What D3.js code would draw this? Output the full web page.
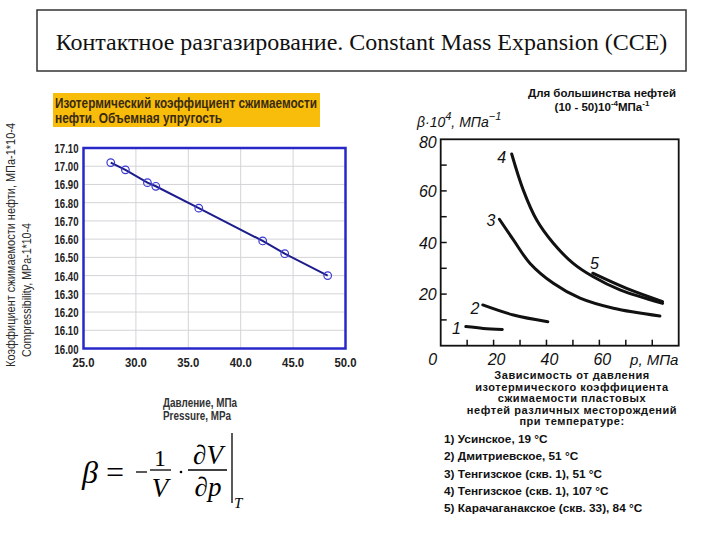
<!DOCTYPE html>
<html><head><meta charset="utf-8">
<script src="https://cdn.jsdelivr.net/npm/d3@7"></script>
<style>body{margin:0;background:#fff}svg{display:block}</style>
</head><body>
<svg id="c" width="720" height="540"></svg>
<script>
// ---- Data ----
const slideTitle = "Контактное разгазирование. Constant Mass Expansion (CCE)";
const leftTitle = ["Изотермический коэффициент сжимаемости", "нефти. Объемная упругость"];
const leftYLabel = ["Коэффициент сжимаемости нефти, МПа-1*10-4", "Compressibility, MPa-1*10-4"];
const leftXLabel = ["Давление, МПа", "Pressure, MPa"];
const pressure = [27.6, 29.0, 31.1, 31.9, 36.0, 42.1, 44.2, 48.3];
const compress = [17.02, 16.98, 16.91, 16.89, 16.77, 16.59, 16.52, 16.40];
const leftXTicks = [25, 30, 35, 40, 45, 50];
const leftYTicks = [16.0, 16.1, 16.2, 16.3, 16.4, 16.5, 16.6, 16.7, 16.8, 16.9, 17.0, 17.1];

const rightHeader = ["Для большинства нефтей", "(10 - 50)10", "-4", "МПа", "-1"];
const curveNames = ["1", "2", "3", "4", "5"];
const curveX = [
  [9.5, 16.1, 23.3],
  [15.9, 27.5, 40.5],
  [22.2, 27.5, 33.8, 42.6, 52.7, 65.3, 82.9],
  [26.85, 31.2, 36.3, 42.6, 50.1, 57.7, 67.8, 83.9],
  [57.5, 70.3, 83.9]
];
const curveY = [
  [7.4, 6.7, 6.3],
  [15.8, 11.9, 9.3],
  [49.0, 41.0, 31.9, 24.2, 18.4, 14.5, 11.5],
  [74.3, 60.4, 48.7, 39.7, 31.9, 26.7, 21.6, 16.4],
  [28.1, 22.2, 17.1]
];
const labelX = [6.0, 13.0, 19.0, 23.1, 58.1];
const labelY = [6.7, 14.7, 48.7, 73.3, 31.9];
const rightXTickLabels = ["0", "20", "40", "60"];
const rightXTickVals = [0, 20, 40, 60];
const rightYTickVals = [20, 40, 60, 80];
const caption = ["Зависимость от давления", "изотермического коэффициента", "сжимаемости пластовых", "нефтей различных месторождений", "при температуре:"];
const legendItems = ["1) Усинское, 19 °C", "2) Дмитриевское, 51 °C", "3) Тенгизское (скв. 1), 51 °C", "4) Тенгизское (скв. 1), 107 °C", "5) Карачаганакское (скв. 33), 84 °C"];

const svg = d3.select("#c");
const sans = "'Liberation Sans',Arial,sans-serif";

// ---- Slide title ----
svg.append("rect").attr("x", 37).attr("y", 10).attr("width", 649).attr("height", 61)
  .attr("fill", "none").attr("stroke", "#333").attr("stroke-width", 1.5);
svg.append("text").attr("x", 361.5).attr("y", 50).attr("text-anchor", "middle")
  .attr("font-family", "'Liberation Serif','Times New Roman',serif").attr("font-size", 24)
  .attr("fill", "#111").text(slideTitle);

// ---- Left chart ----
svg.append("rect").attr("x", 53).attr("y", 93).attr("width", 267).attr("height", 34).attr("fill", "#f7bd0a");
const titleLen = [262, 167];
leftTitle.forEach((t, i) => svg.append("text").attr("x", 55).attr("y", 108 + i * 15)
  .attr("font-family", sans).attr("font-weight", "bold").attr("font-size", 14)
  .attr("textLength", titleLen[i]).attr("lengthAdjust", "spacingAndGlyphs")
  .attr("fill", "#3a2a10").text(t));

const lx = d3.scaleLinear().domain([25, 50]).range([83.5, 345.5]);
const ly = d3.scaleLinear().domain([16.0, 17.1]).range([348.5, 148]);
const gL = svg.append("g");
gL.selectAll("line.gx").data(leftXTicks.slice(1, -1)).join("line")
  .attr("x1", d => lx(d)).attr("x2", d => lx(d)).attr("y1", ly(16)).attr("y2", ly(17.1))
  .attr("stroke", "#d4d4d8").attr("stroke-width", 1);
gL.selectAll("line.gy").data(leftYTicks.slice(1, -1)).join("line")
  .attr("x1", lx(25)).attr("x2", lx(50)).attr("y1", d => ly(d)).attr("y2", d => ly(d))
  .attr("stroke", "#d4d4d8").attr("stroke-width", 1);
gL.append("rect").attr("x", lx(25)).attr("y", ly(17.1)).attr("width", lx(50) - lx(25)).attr("height", ly(16) - ly(17.1))
  .attr("fill", "none").attr("stroke", "#2828c8").attr("stroke-width", 2.5);
gL.selectAll("text.yt").data(leftYTicks).join("text")
  .attr("x", lx(25) - 29).attr("y", d => ly(d) + 5)
  .attr("font-family", sans).attr("font-weight", "bold").attr("font-size", 13).attr("fill", "#222")
  .attr("textLength", 24).attr("lengthAdjust", "spacingAndGlyphs")
  .text(d => d.toFixed(2));
gL.selectAll("text.xt").data(leftXTicks).join("text")
  .attr("x", d => lx(d) - 11).attr("y", ly(16) + 18)
  .attr("font-family", sans).attr("font-weight", "bold").attr("font-size", 13).attr("fill", "#222")
  .attr("textLength", 22).attr("lengthAdjust", "spacingAndGlyphs")
  .text(d => d.toFixed(1));
const lineL = d3.line().x((d, i) => lx(pressure[i])).y((d, i) => ly(compress[i]));
gL.append("path").attr("d", lineL(pressure)).attr("fill", "none").attr("stroke", "#1c1c8c").attr("stroke-width", 2);
gL.selectAll("circle").data(pressure).join("circle")
  .attr("cx", (d, i) => lx(pressure[i])).attr("cy", (d, i) => ly(compress[i])).attr("r", 3.8)
  .attr("fill", "none").attr("stroke", "#3a3ad0").attr("stroke-width", 1.2);
const yLab = [[14.5, 367, 244], [31, 357, 134]];
yLab.forEach((p, i) => svg.append("text")
  .attr("transform", `translate(${p[0]},${p[1]}) rotate(-90)`)
  .attr("font-family", sans).attr("font-size", 13).attr("fill", "#2a2a2a")
  .attr("textLength", p[2]).attr("lengthAdjust", "spacingAndGlyphs")
  .text(leftYLabel[i]));
const xLabLen = [74, 68];
leftXLabel.forEach((t, i) => svg.append("text").attr("x", 163).attr("y", 407 + i * 13)
  .attr("font-family", sans).attr("font-weight", "bold").attr("font-size", 12.5).attr("fill", "#333")
  .attr("textLength", xLabLen[i]).attr("lengthAdjust", "spacingAndGlyphs").text(t));

// ---- Formula ----
const serif = "'Liberation Serif','Times New Roman',serif";
const fm = svg.append("g").attr("font-family", serif).attr("fill", "#000");
fm.append("text").attr("x", 82).attr("y", 483).attr("font-size", 32).attr("font-style", "italic").text("β");
fm.append("text").attr("x", 106).attr("y", 483).attr("font-size", 32).text("=");
fm.append("line").attr("x1", 136).attr("x2", 147).attr("y1", 472).attr("y2", 472).attr("stroke", "#000").attr("stroke-width", 1.3);
fm.append("line").attr("x1", 150).attr("x2", 171).attr("y1", 470).attr("y2", 470).attr("stroke", "#000").attr("stroke-width", 1.3);
fm.append("text").attr("x", 160).attr("y", 466).attr("text-anchor", "middle").attr("font-size", 24).text("1");
fm.append("text").attr("x", 160).attr("y", 497).attr("text-anchor", "middle").attr("font-size", 27).attr("font-style", "italic").text("V");
fm.append("circle").attr("cx", 181).attr("cy", 472).attr("r", 1.3);
fm.append("line").attr("x1", 188).attr("x2", 227).attr("y1", 470).attr("y2", 470).attr("stroke", "#000").attr("stroke-width", 1.3);
fm.append("text").attr("x", 208).attr("y", 464).attr("text-anchor", "middle").attr("font-size", 27).attr("font-style", "italic").text("∂V");
fm.append("text").attr("x", 208).attr("y", 496).attr("text-anchor", "middle").attr("font-size", 27).attr("font-style", "italic").text("∂p");
fm.append("line").attr("x1", 232).attr("x2", 232).attr("y1", 433).attr("y2", 503).attr("stroke", "#000").attr("stroke-width", 1.3);
fm.append("text").attr("x", 234).attr("y", 508).attr("font-size", 15).attr("font-style", "italic").text("T");

// ---- Right chart ----
const rx = d3.scaleLinear().domain([0, 90]).range([440.7, 678.7]);
const ry = d3.scaleLinear().domain([0, 80]).range([345.7, 139.3]);
const gR = svg.append("g");
const hand = "'Liberation Sans',Arial,sans-serif";
gR.append("rect").attr("x", rx(0)).attr("y", ry(80)).attr("width", rx(90) - rx(0)).attr("height", ry(0) - ry(80))
  .attr("fill", "none").attr("stroke", "#111").attr("stroke-width", 1.8);
gR.selectAll("line.xt").data(d3.range(10, 90, 10)).join("line")
  .attr("x1", d => rx(d)).attr("x2", d => rx(d)).attr("y1", ry(0)).attr("y2", ry(0) - 6)
  .attr("stroke", "#111").attr("stroke-width", 1.5);
gR.selectAll("line.yt").data(d3.range(10, 80, 10)).join("line")
  .attr("x1", rx(0)).attr("x2", rx(0) + 6).attr("y1", d => ry(d)).attr("y2", d => ry(d))
  .attr("stroke", "#111").attr("stroke-width", 1.5);
gR.selectAll("text.ytl").data(rightYTickVals).join("text")
  .attr("x", rx(0) - 4).attr("y", d => ry(d) + (d === 80 ? 9 : 6)).attr("text-anchor", "end")
  .attr("font-family", hand).attr("font-style", "italic").attr("font-size", 16).attr("fill", "#111")
  .text(d => d);
gR.selectAll("text.xtl").data(rightXTickVals).join("text")
  .attr("x", (d, i) => rx(d) + (i === 0 ? -8 : 3)).attr("y", ry(0) + 19).attr("text-anchor", "middle")
  .attr("font-family", hand).attr("font-style", "italic").attr("font-size", 16).attr("fill", "#111")
  .text((d, i) => rightXTickLabels[i]);
gR.append("text").attr("x", rx(80) + 2).attr("y", ry(0) + 19).attr("text-anchor", "middle")
  .attr("font-family", hand).attr("font-style", "italic").attr("font-size", 15).attr("fill", "#111").text("p, МПа");
const yt = gR.append("text").attr("x", 417).attr("y", 127)
  .attr("font-family", hand).attr("font-style", "italic").attr("font-size", 14).attr("fill", "#111");
yt.append("tspan").text("β·10");
yt.append("tspan").attr("dy", -7).attr("font-size", 11).text("4");
yt.append("tspan").attr("dy", 7).text(", МПа");
yt.append("tspan").attr("dy", -7).attr("font-size", 11).text("−1");

const lineR = d3.line().curve(d3.curveCatmullRom.alpha(0.5));
curveX.forEach((xs, k) => {
  gR.append("path").attr("d", lineR(xs.map((x, i) => [rx(x), ry(curveY[k][i])])))
    .attr("fill", "none").attr("stroke", "#111").attr("stroke-width", 3).attr("stroke-linecap", "round");
});
gR.selectAll("text.cl").data(curveNames).join("text")
  .attr("x", (d, i) => rx(labelX[i])).attr("y", (d, i) => ry(labelY[i]) + 6).attr("text-anchor", "middle")
  .attr("font-family", hand).attr("font-style", "italic").attr("font-size", 16).attr("fill", "#111").text(d => d);

// header
svg.append("text").attr("x", 602).attr("y", 97).attr("text-anchor", "middle")
  .attr("font-family", sans).attr("font-weight", "bold").attr("font-size", 11.5).attr("fill", "#111").text(rightHeader[0]);
const h2 = svg.append("text").attr("x", 602).attr("y", 111).attr("text-anchor", "middle")
  .attr("font-family", sans).attr("font-weight", "bold").attr("font-size", 11.5).attr("fill", "#111");
h2.append("tspan").text(rightHeader[1]);
h2.append("tspan").attr("dy", -5).attr("font-size", 8).text(rightHeader[2]);
h2.append("tspan").attr("dy", 5).text(rightHeader[3]);
h2.append("tspan").attr("dy", -5).attr("font-size", 8).text(rightHeader[4]);

// caption
caption.forEach((t, i) => svg.append("text").attr("x", 572).attr("y", 379 + i * 11.5).attr("text-anchor", "middle")
  .attr("font-family", sans).attr("font-weight", "bold").attr("font-size", 11).attr("letter-spacing", 0.55)
  .attr("fill", "#111").text(t));
legendItems.forEach((t, i) => svg.append("text").attr("x", 444).attr("y", 443 + i * 17.3)
  .attr("font-family", sans).attr("font-weight", "bold").attr("font-size", 11.8).attr("fill", "#111").text(t));
</script>
</body></html>
